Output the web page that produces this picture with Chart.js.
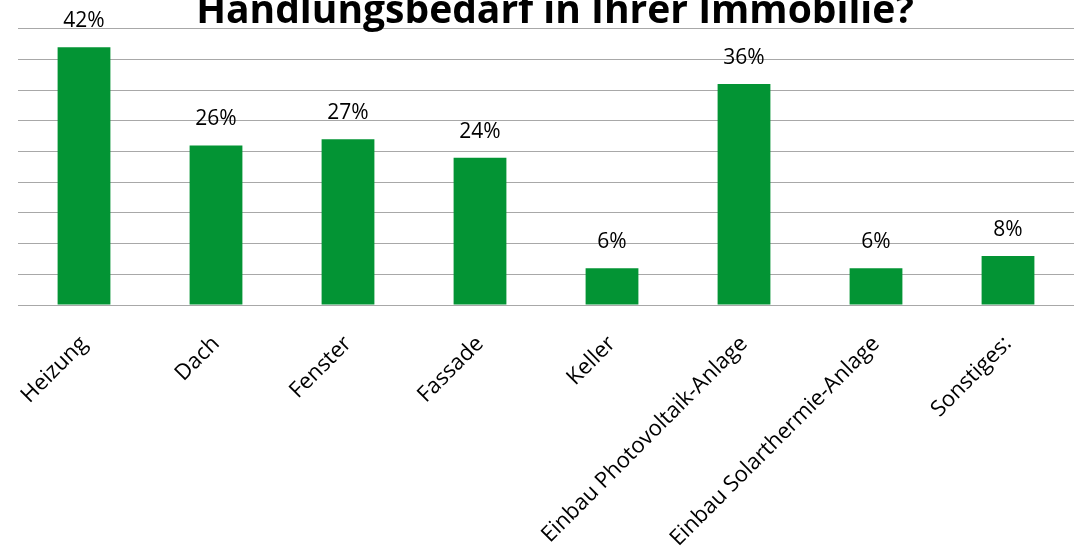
<!DOCTYPE html>
<html lang="de">
<head>
<meta charset="utf-8">
<title>Handlungsbedarf in Ihrer Immobilie?</title>
<script src="https://cdn.jsdelivr.net/npm/chart.js@4/dist/chart.umd.min.js"></script>
<style>
    html, body {
        margin: 0;
        padding: 0;
        background: #fff;
        overflow: hidden;
        width: 1076px;
        height: 551px;
    }
    .wrap {
        position: absolute;
        left: 0;
        top: -10px;
    }
</style>
</head>
<body>
<div class="wrap">
    <canvas id="grafico" width="1092" height="565"></canvas>
</div>

<script>
// Daten
const kategorien = ['Heizung', 'Dach', 'Fenster', 'Fassade', 'Keller',
    'Einbau Photovoltaik-Anlage', 'Einbau Solarthermie-Anlage', 'Sonstiges:'];
const anteile = [42, 26, 27, 24, 6, 36, 6, 8];
const achseMax = 45;
const achseSchritt = 5;

const gruen = '#039434';
const grau = '#a8a8a8';
const schrift = "'Open Sans', 'DejaVu Sans', sans-serif";

// Prozentwerte über den Balken
const wertLabels = {
    id: 'wertLabels',
    afterDatasetsDraw(chart) {
        const ctx = chart.ctx;
        const meta = chart.getDatasetMeta(0);
        ctx.save();
        ctx.font = '21px ' + schrift;
        ctx.fillStyle = '#000';
        ctx.textAlign = 'center';
        ctx.textBaseline = 'alphabetic';
        meta.data.forEach((bar, i) => {
            ctx.fillText(anteile[i] + '%', bar.x, bar.y - 20);
        });
        ctx.restore();
    }
};

const ctx = document.getElementById('grafico').getContext('2d');
const grafico = new Chart(ctx, {
    type: 'bar',
    data: {
        labels: kategorien,
        datasets: [{
            data: anteile,
            backgroundColor: gruen,
            borderWidth: 0,
            categoryPercentage: 1,
            barPercentage: 0.4
        }]
    },
    options: {
        responsive: false,
        animation: false,
        layout: {
            padding: { left: 18, right: 0, top: 0, bottom: 0 }
        },
        plugins: {
            legend: { display: false },
            tooltip: { enabled: false },
            title: {
                display: true,
                text: 'Handlungsbedarf in Ihrer Immobilie?',
                color: '#000',
                font: { family: schrift, size: 39, weight: 'bold', lineHeight: 1.2 },
                padding: { top: -2, bottom: -6 }
            }
        },
        scales: {
            x: {
                grid: { display: false },
                border: { display: false },
                ticks: {
                    autoSkip: false,
                    maxRotation: 45,
                    minRotation: 45,
                    padding: 18,
                    color: '#000',
                    font: { family: schrift, size: 22 }
                },
                afterFit: (axis) => { axis.height = 250; }
            },
            y: {
                min: 0,
                max: achseMax,
                ticks: { display: false, stepSize: achseSchritt },
                border: { display: false },
                grid: { color: grau, lineWidth: 1, drawTicks: false },
                afterFit: (axis) => { axis.width = 0; }
            },
            // leere rechte Achse, damit der Titel mittig sitzt
            rechts: {
                position: 'right',
                min: 0,
                max: achseMax,
                ticks: { display: false },
                border: { display: false },
                grid: { display: false },
                afterFit: (axis) => { axis.width = 18; }
            }
        }
    },
    plugins: [wertLabels]
});
</script>
</body>
</html>
